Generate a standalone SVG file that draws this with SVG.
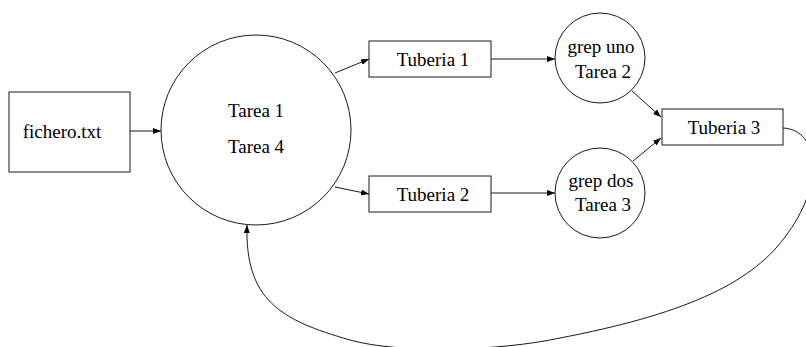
<svg xmlns="http://www.w3.org/2000/svg" width="806" height="347" viewBox="0 0 806 347">
  <style>
    .shape { fill: #ffffff; stroke: #1a1a1a; stroke-width: 1; }
    .edge { fill: none; stroke: #1a1a1a; stroke-width: 1; }
    .label { font-family: "Liberation Serif", "Times New Roman", "DejaVu Serif", serif; font-size: 19px; fill: #000000; text-anchor: middle; }
  </style>
  <defs>
    <marker id="arrow" viewBox="0 0 8 6" refX="8" refY="3" markerWidth="8" markerHeight="6" markerUnits="userSpaceOnUse" orient="auto">
      <path d="M0,0 L8,3 L0,6 Z" fill="#000000"/>
    </marker>
  </defs>

  <rect width="806" height="347" fill="#ffffff"/>

  <g id="connectors">
    <line class="edge" x1="130" y1="131" x2="161" y2="131" marker-end="url(#arrow)"/>
    <line class="edge" x1="335" y1="73" x2="369" y2="59" marker-end="url(#arrow)"/>
    <line class="edge" x1="335" y1="187" x2="369" y2="194" marker-end="url(#arrow)"/>
    <line class="edge" x1="491" y1="59" x2="555" y2="59" marker-end="url(#arrow)"/>
    <line class="edge" x1="491" y1="193" x2="555" y2="193" marker-end="url(#arrow)"/>
    <line class="edge" x1="632" y1="91" x2="661" y2="117" marker-end="url(#arrow)"/>
    <line class="edge" x1="633" y1="161" x2="661" y2="138" marker-end="url(#arrow)"/>
    <!-- feedback loop from Tuberia 3 back to the main task -->
    <path class="edge" d="M783,128 C820,130 825,185 785,237 C750,285 680,315 560,338 C500,351 400,354 350,340 C280,320 245,300 247,225" marker-end="url(#arrow)"/>
  </g>

  <g id="fichero">
    <rect class="shape" x="9" y="92" width="121" height="80"/>
    <text class="label" x="62" y="138">fichero.txt</text>
  </g>

  <g id="tarea1">
    <circle class="shape" cx="256" cy="130" r="95"/>
    <text class="label" x="256" y="117">Tarea 1</text>
    <text class="label" x="256" y="153">Tarea 4</text>
  </g>

  <g id="tuberia1">
    <rect class="shape" x="369" y="41" width="122" height="36"/>
    <text class="label" x="433" y="66">Tuberia 1</text>
  </g>

  <g id="tuberia2">
    <rect class="shape" x="369" y="176" width="122" height="36"/>
    <text class="label" x="433" y="201">Tuberia 2</text>
  </g>

  <g id="grepuno">
    <circle class="shape" cx="600" cy="58" r="45"/>
    <text class="label" x="601" y="53">grep uno</text>
    <text class="label" x="603" y="78">Tarea 2</text>
  </g>

  <g id="grepdos">
    <circle class="shape" cx="600" cy="193" r="45"/>
    <text class="label" x="601" y="187">grep dos</text>
    <text class="label" x="603" y="211">Tarea 3</text>
  </g>

  <g id="tuberia3">
    <rect class="shape" x="662" y="109" width="121" height="36"/>
    <text class="label" x="724" y="134">Tuberia 3</text>
  </g>
</svg>
